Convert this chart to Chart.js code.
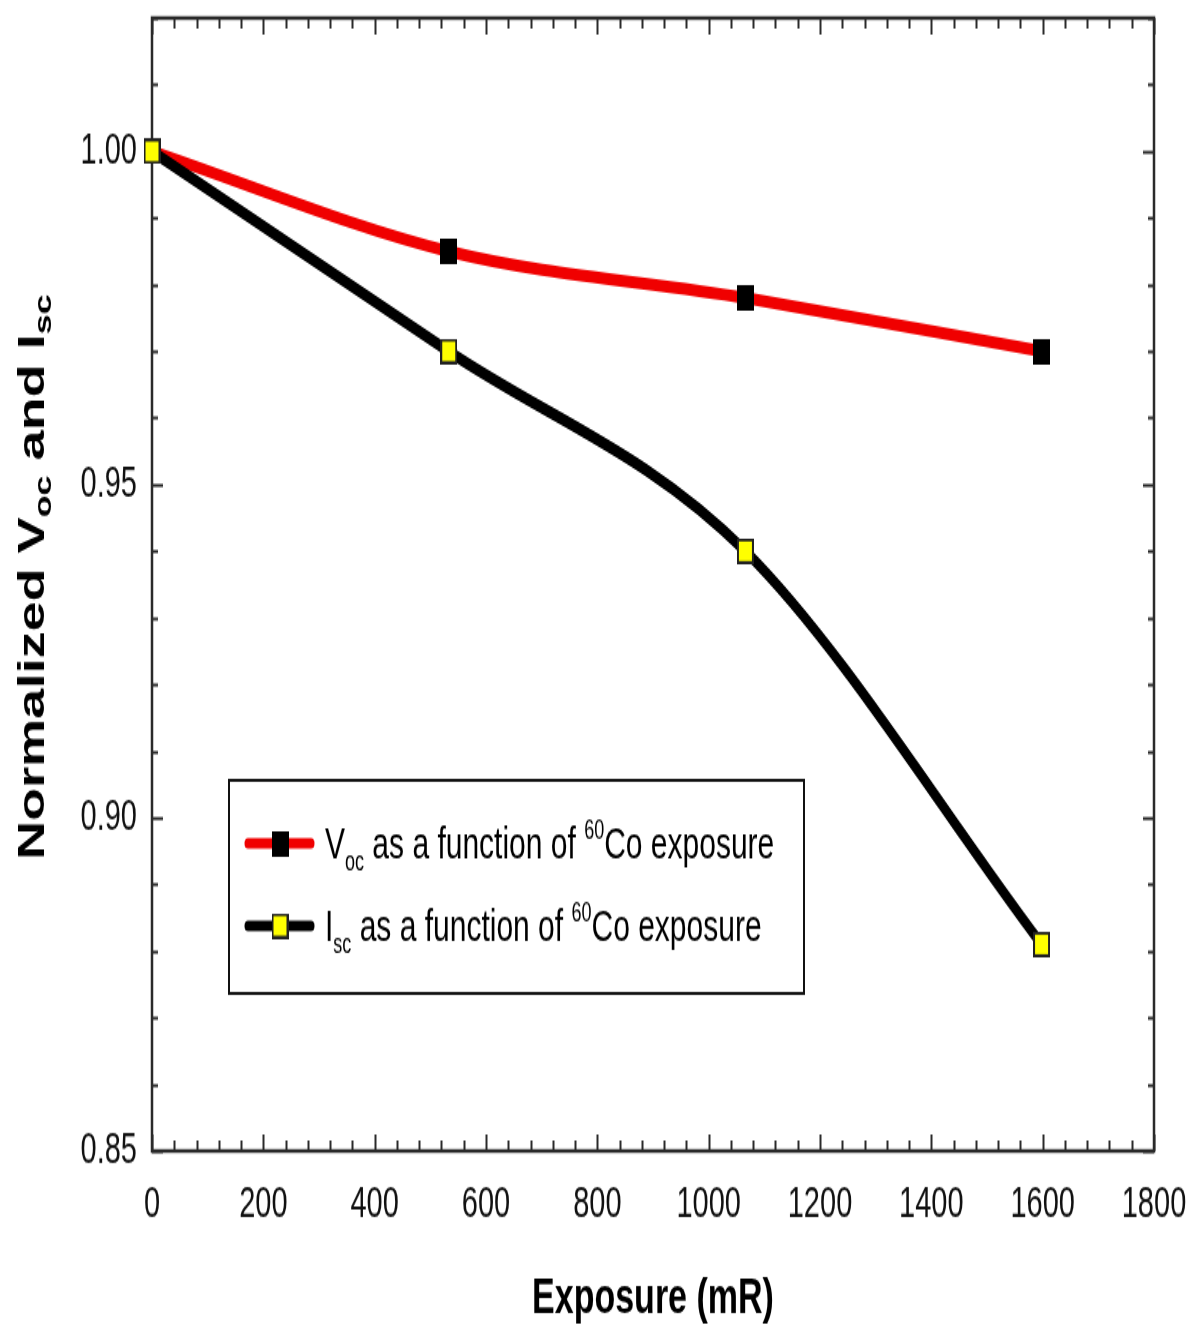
<!DOCTYPE html>
<html>
<head>
<meta charset="utf-8">
<script src="https://cdn.jsdelivr.net/npm/chart.js@4.4.0/dist/chart.umd.min.js"></script>
<style>
  html, body { margin: 0; padding: 0; background: #fff; overflow: hidden; }
  #outer { width: 1189px; height: 1325px; position: relative; overflow: hidden; }
  /* the reference picture is stretched vertically, so the chart is drawn flat and scaled */
  #wrap { position: absolute; left: 0; top: 0; width: 1189px; height: 883px; transform: scale(1, 1.5006); transform-origin: 0 0; }
</style>
</head>
<body>
<div id="outer"><div id="wrap"><canvas id="chart" width="1189" height="883"></canvas></div></div>
<script>
// data
const exposure = [0, 533, 1066, 1598];
const vocValues = [1.0, 0.985, 0.978, 0.97];
const iscValues = [1.0, 0.97, 0.94, 0.881];

const xTickValues = [0, 200, 400, 600, 800, 1000, 1200, 1400, 1600, 1800];
const yTickValues = [0.85, 0.9, 0.95, 1.0];
const xMinorStep = 40;
const yMinorStep = 0.01;

const FONT = "'Liberation Sans', Arial, Helvetica, sans-serif";
const AXIS_COLOR = "#2a2a2a";

function makeMarker(fill, stroke) {
	const c = document.createElement("canvas");
	c.width = 17;
	c.height = 17;
	const g = c.getContext("2d");
	g.fillStyle = fill;
	g.fillRect(0, 0, 17, 17);
	g.strokeStyle = stroke;
	g.lineWidth = 2;
	g.strokeRect(1, 1, 15, 15);
	return c;
}

const blackMarker = makeMarker("#000000", "#000000");
const yellowMarker = makeMarker("#ffff00", "#222222");

// text with sub/superscripts: parts = [{t, size, dy}]
function richWidth(ctx, parts, weight) {
	let w = 0;
	parts.forEach((p) => {
		ctx.font = `${weight} ${p.size}px ${FONT}`;
		w += ctx.measureText(p.t).width;
	});
	return w;
}

function drawRich(ctx, parts, x, y, weight) {
	let cx = x;
	parts.forEach((p) => {
		ctx.font = `${weight} ${p.size}px ${FONT}`;
		ctx.fillText(p.t, cx, y + (p.dy || 0));
		cx += ctx.measureText(p.t).width;
	});
}

const whiteBg = {
	id: "whiteBg",
	beforeDraw(chart) {
		const ctx = chart.ctx;
		ctx.save();
		ctx.fillStyle = "#fff";
		ctx.fillRect(0, 0, chart.width, chart.height);
		ctx.restore();
	},
};

// frame box with inward ticks on all four sides
const frameTicks = {
	id: "frameTicks",
	beforeDatasetsDraw(chart) {
		const { ctx, chartArea: a, scales } = chart;
		const xs = scales.x;
		const ys = scales.y;
		ctx.save();
		ctx.strokeStyle = AXIS_COLOR;
		ctx.lineWidth = 2;
		ctx.beginPath();
		for (let v = xs.min; v <= xs.max + 1e-6; v += xMinorStep) {
			const px = Math.round(xs.getPixelForValue(v)) + 0.5;
			const len = Math.abs(v % 200) < 1e-6 ? 11 : 7;
			ctx.moveTo(px, a.bottom);
			ctx.lineTo(px, a.bottom - len);
			ctx.moveTo(px, a.top);
			ctx.lineTo(px, a.top + len);
		}
		for (let i = 0; ys.min + i * yMinorStep <= ys.max + 1e-9; i++) {
			const v = ys.min + i * yMinorStep;
			const py = Math.round(ys.getPixelForValue(v)) + 0.5;
			const len = i % 5 === 0 ? 11 : 6;
			ctx.moveTo(a.left, py);
			ctx.lineTo(a.left + len, py);
			ctx.moveTo(a.right, py);
			ctx.lineTo(a.right - len, py);
		}
		ctx.stroke();
		ctx.lineWidth = 2.5;
		ctx.strokeRect(a.left, a.top, a.right - a.left, a.bottom - a.top);
		ctx.restore();
	},
};

// axis titles and legend box, drawn by hand for the sub/superscripts
const labels = {
	id: "labels",
	afterDraw(chart) {
		const { ctx, chartArea: a } = chart;
		ctx.save();
		ctx.fillStyle = "#000";
		ctx.textBaseline = "alphabetic";

		// x title
		ctx.font = `bold 34px ${FONT}`;
		ctx.textAlign = "center";
		ctx.fillText("Exposure (mR)", (a.left + a.right) / 2, 875);

		// y title
		ctx.textAlign = "left";
		const yParts = [
			{ t: "Normalized V", size: 36 },
			{ t: "oc", size: 24, dy: 7 },
			{ t: " and I", size: 36 },
			{ t: "sc", size: 24, dy: 7 },
		];
		ctx.translate(44, (a.top + a.bottom) / 2 - 5);
		ctx.rotate(-Math.PI / 2);
		drawRich(ctx, yParts, -richWidth(ctx, yParts, "bold") / 2, 0, "bold");
		ctx.setTransform(1, 0, 0, 1, 0, 0);

		// legend
		ctx.strokeStyle = "#111";
		ctx.lineWidth = 2;
		ctx.strokeRect(229, 520, 575, 142);
		const rows = [
			{ ds: chart.data.datasets[1], y: 562, sym: "V", sub: "oc" },
			{ ds: chart.data.datasets[0], y: 617, sym: "I", sub: "sc" },
		];
		rows.forEach((r) => {
			ctx.strokeStyle = r.ds.borderColor;
			ctx.lineWidth = 7;
			ctx.lineCap = "round";
			ctx.beginPath();
			ctx.moveTo(248, r.y);
			ctx.lineTo(311, r.y);
			ctx.stroke();
			ctx.drawImage(r.ds.pointStyle, 280 - 8.5, r.y - 8.5);
			ctx.fillStyle = "#000";
			drawRich(
				ctx,
				[
					{ t: r.sym, size: 30 },
					{ t: r.sub, size: 18, dy: 8 },
					{ t: " as a function of ", size: 30 },
					{ t: "60", size: 18, dy: -13 },
					{ t: "Co exposure", size: 30 },
				],
				325,
				r.y + 10,
				"normal"
			);
		});
		ctx.restore();
	},
};

const toPoints = (ys) => exposure.map((x, i) => ({ x, y: ys[i] }));

new Chart(document.getElementById("chart"), {
	type: "line",
	data: {
		datasets: [
			{
				label: "Isc as a function of 60Co exposure",
				data: toPoints(iscValues),
				borderColor: "#000000",
				borderWidth: 8,
				pointStyle: yellowMarker,
				cubicInterpolationMode: "monotone",
				clip: false,
			},
			{
				label: "Voc as a function of 60Co exposure",
				data: toPoints(vocValues),
				borderColor: "#f00000",
				borderWidth: 8,
				pointStyle: blackMarker,
				cubicInterpolationMode: "monotone",
				clip: false,
			},
		],
	},
	options: {
		responsive: false,
		animation: false,
		devicePixelRatio: 1,
		layout: { padding: { top: 9, right: 35, left: 0, bottom: 0 } },
		plugins: {
			legend: { display: false },
			tooltip: { enabled: false },
		},
		scales: {
			x: {
				type: "linear",
				min: 0,
				max: 1800,
				afterBuildTicks: (s) => {
					s.ticks = xTickValues.map((value) => ({ value }));
				},
				afterFit: (s) => {
					s.height = 116;
					s.paddingLeft = 0;
					s.paddingRight = 0;
				},
				grid: { display: false, drawTicks: false },
				border: { display: false },
				ticks: {
					padding: 19,
					color: "#111",
					maxRotation: 0,
					font: { family: FONT, size: 29 },
					callback: (v) => String(v),
				},
			},
			y: {
				type: "linear",
				min: 0.85,
				max: 1.02,
				afterBuildTicks: (s) => {
					s.ticks = yTickValues.map((value) => ({ value }));
				},
				afterFit: (s) => {
					s.width = 152;
					s.paddingTop = 0;
					s.paddingBottom = 0;
				},
				grid: { display: false, drawTicks: false },
				border: { display: false },
				ticks: {
					padding: 15,
					color: "#111",
					font: { family: FONT, size: 29 },
					callback: (v) => Number(v).toFixed(2),
				},
			},
		},
	},
	plugins: [whiteBg, frameTicks, labels],
});
</script>
</body>
</html>
